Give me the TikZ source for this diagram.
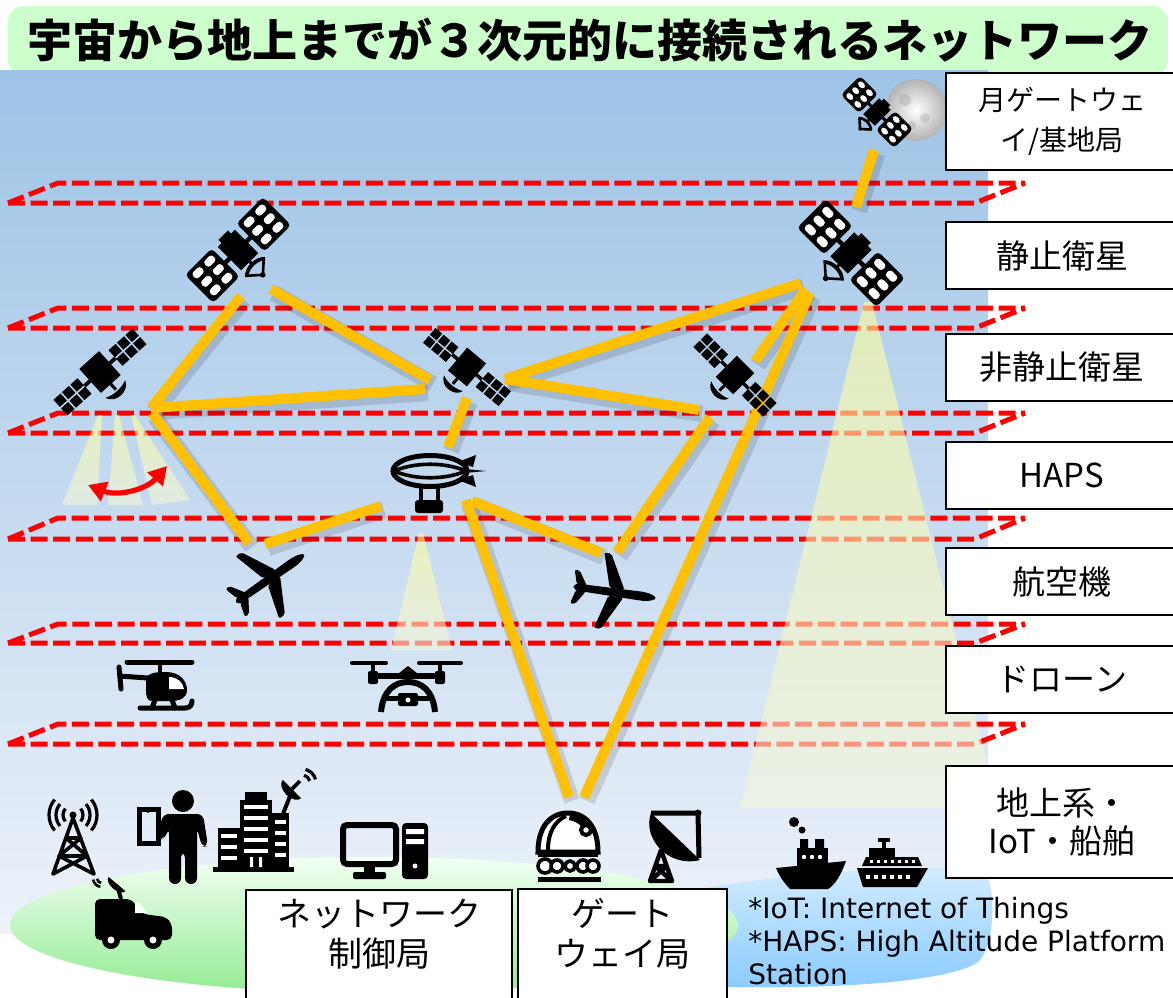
\documentclass[tikz,border=0pt]{standalone}
\usepackage{fontspec}
\setmainfont{Noto Sans CJK JP}
\newfontfamily\notefont{DejaVu Sans}
\usetikzlibrary{arrows.meta,positioning}

\definecolor{skyTop}{HTML}{9DC3E6}
\definecolor{skyBottom}{HTML}{EDF2FA}
\definecolor{titleGreen}{HTML}{CCFFCC}
\definecolor{layerRed}{HTML}{FF0000}
\definecolor{linkGold}{HTML}{FFC000}
\definecolor{beamYellow}{HTML}{FFFF99}
\definecolor{landTop}{HTML}{F2FFF2}
\definecolor{landBottom}{HTML}{92EC92}
\definecolor{seaTop}{HTML}{D2ECFF}
\definecolor{seaBottom}{HTML}{8ACBFF}

\tikzset{
	layer/.style={draw=layerRed, line width=2.5pt, dash pattern=on 8.5pt off 2.8pt},
	link/.style={draw=linkGold, line width=5pt},
	linkshadow/.style={draw=black, opacity=0.13, line width=8pt,
		transform canvas={shift={(1.5pt,-2pt)}}},
	beam/.style={top color=beamYellow, bottom color=beamYellow!30!skyBottom, opacity=0.6, draw=none},
	swing/.style={draw=layerRed, line width=2.6pt,
		{Triangle[length=9pt,width=10pt]}-{Triangle[length=9pt,width=10pt]}},
	tier/.style={draw=black, line width=1pt, fill=white, anchor=north west,
		minimum width=116pt, align=center, inner sep=0pt,
		font=\fontsize{16.5}{20}\selectfont},
	groundbox/.style={draw=black, line width=1pt, fill=white, anchor=north west, inner sep=0pt},
	groundtext/.style={align=center, inner sep=0pt, font=\fontsize{17}{20}\selectfont},
	pics/satgeo/.style={code={
		\fill (-11,-15) rectangle (11,15);
		\fill (-6,-19) rectangle (6,-14);
		\fill (-16,-2) rectangle (16,2);
		\foreach \s in {-1,1}{
			\fill[rounded corners=2pt] ({\s*16},-18) rectangle ({\s*50},18);
			\foreach \i in {0,1}
				\foreach \j in {0,1,2}
					\fill[white, rounded corners=1.5pt] ({\s*(20+\i*15)},{-14.5+\j*11}) rectangle ({\s*(30.5+\i*15)},{-7.5+\j*11});
		}
		\draw[line width=1.5pt] (0,15) -- (0,20);
		\fill (-13,22) .. controls (-7,15) and (7,15) .. (13,22) -- (11,24) .. controls (5,19) and (-5,19) .. (-11,24) -- cycle;
		\draw[line width=1.3pt, line join=round] (-10,23) -- (0,32) -- (10,23);
		\fill (0,32) circle (2.5);
	}},
	pics/satleo/.style={code={
		\fill (-14,-17) rectangle (14,17);
		\fill (-22,-2) rectangle (22,2);
		\foreach \s in {-1,1}
			\foreach \i in {0,1,2}
				\foreach \j in {0,1}
					\fill ({\s*(22+\i*12)},{-11+\j*12}) rectangle ({\s*(32+\i*12)},{-1+\j*12});
		\draw[line width=1.5pt] (0,17) -- (0,25);
		\fill (-14,24) .. controls (-10,36) and (10,36) .. (14,24) .. controls (6,28) and (-6,28) .. (-14,24) -- cycle;
	}},
	pics/plane/.style={code={
		\fill (-36,-3.5) -- (28,-4.5) .. controls (38,-4.5) and (44,-2) .. (44,0) .. controls (44,2) and (38,4.5) .. (28,4.5) -- (-36,3.5) -- (-39,0) -- cycle;
		\fill[rounded corners=1pt] (12,-4) -- (-6,-38) -- (-13,-38) -- (-3,-4) -- cycle;
		\fill[rounded corners=1pt] (12,4) -- (-6,38) -- (-13,38) -- (-3,4) -- cycle;
		\fill[rounded corners=1pt] (-26,-3) -- (-35,-17) -- (-40,-17) -- (-36,-3) -- cycle;
		\fill[rounded corners=1pt] (-26,3) -- (-35,17) -- (-40,17) -- (-36,3) -- cycle;
	}}
}

\begin{document}
\begin{tikzpicture}[x=0.5pt, y=-0.5pt]
	\useasboundingbox (0,0) rectangle (1173,997);

	% title band and sky
	\fill[titleGreen, rounded corners=8pt] (8,6) rectangle (1168,76);
	\shade[top color=skyTop, bottom color=skyBottom] (0,70) rectangle (988,933);
	\node[font=\bfseries\fontsize{22.5}{26}\selectfont] (title) at (590,40) {宇宙から地上までが３次元的に接続されるネットワーク};

	% sea and land
	\shade[top color=seaTop, bottom color=seaBottom] (705,888) .. controls (800,872) and (900,866) .. (984,868) .. controls (996,885) and (996,945) .. (978,962) .. controls (945,985) and (800,990) .. (705,986) -- cycle;
	\shade[top color=landTop, bottom color=landBottom] (374,925) ellipse (364 and 68);

	% layers
	\foreach \ya/\yb in {183/203, 308/328, 413/433, 518/539, 624/643, 724/744}
		\draw[layer] (8,\yb) -- (58,\ya) -- (1025,\ya) (8,\yb) -- (975,\yb) -- (1025,\ya);

	% coverage beams
	\begin{scope}
		\clip (0,70) rectangle (988,933);
		\shade[beam] (864,302) -- (872,302) -- (998,808) -- (740,808) -- cycle;
		\shade[beam] (419,533) -- (423,533) -- (452,650) -- (391,650) -- cycle;
		\shade[beam] (98,415) -- (102,415) -- (97,505) -- (62,505) -- cycle;
		\shade[beam] (115,415) -- (119,415) -- (143,505) -- (108,505) -- cycle;
		\shade[beam] (131,415) -- (135,415) -- (190,500) -- (152,505) -- cycle;
	\end{scope}
	\coordinate (swingL) at (88,485);
	\coordinate (swingR) at (167,466);
	\draw[swing] (swingL) to[bend right=35] (swingR);

	% link ends
	\coordinate (moon-s) at (874,150);
	\coordinate (geoR-n) at (856,207);
	\coordinate (geoL-sw) at (241,296);
	\coordinate (geoL-se) at (271,289);
	\coordinate (leoL-e) at (151,408);
	\coordinate (leoL-se) at (152,413);
	\coordinate (leoM-w1) at (430,380);
	\coordinate (leoM-w2) at (425,389);
	\coordinate (leoM-s) at (467,398);
	\coordinate (leoM-e) at (505,379);
	\coordinate (geoR-sw1) at (801,283);
	\coordinate (geoR-sw2) at (806,289);
	\coordinate (geoR-sw3) at (810,293);
	\coordinate (leoR-w) at (699,410);
	\coordinate (leoR-n) at (755,361);
	\coordinate (leoR-s) at (710,417);
	\coordinate (haps-n) at (448,447);
	\coordinate (haps-w) at (381,506);
	\coordinate (haps-se1) at (466,500);
	\coordinate (haps-se2) at (472,501);
	\coordinate (air1-n) at (249,543);
	\coordinate (air1-e) at (265,544);
	\coordinate (air2-n) at (601,553);
	\coordinate (air2-e) at (617,552);
	\coordinate (gw-w) at (569,797);
	\coordinate (gw-e) at (584,797);

	\foreach \a/\b in {moon-s/geoR-n, geoL-sw/leoL-e, geoL-se/leoM-w1, leoL-e/leoM-w2,
			leoL-se/air1-n, air1-e/haps-w, leoM-s/haps-n, haps-se1/gw-w, haps-se2/air2-n,
			leoM-e/geoR-sw1, leoM-e/leoR-w, geoR-sw2/leoR-n, geoR-sw3/gw-e, leoR-s/air2-e}
		\draw[linkshadow] (\a) -- (\b);
	\foreach \a/\b in {moon-s/geoR-n, geoL-sw/leoL-e, geoL-se/leoM-w1, leoL-e/leoM-w2,
			leoL-se/air1-n, air1-e/haps-w, leoM-s/haps-n, haps-se1/gw-w, haps-se2/air2-n,
			leoM-e/geoR-sw1, leoM-e/leoR-w, geoR-sw2/leoR-n, geoR-sw3/gw-e, leoR-s/air2-e}
		\draw[link] (\a) -- (\b);

	% moon and satellites
	\shade[inner color=white, outer color=gray!60] (916,110) circle (31);
	\fill[gray, opacity=0.25] (905,100) circle (6) (925,118) circle (5) (912,125) circle (4);
	\pic[rotate=-45, scale=0.75] at (877,112) {satgeo};
	\pic[rotate=45, scale=1.1] at (238,250) {satgeo};
	\pic[rotate=-45, scale=1.12] at (851,253) {satgeo};
	\pic[rotate=42, scale=0.95] at (100,372) {satleo};
	\pic[rotate=-40, scale=0.88] at (467,367) {satleo};
	\pic[rotate=-45, scale=0.88] at (735,375) {satleo};

	% HAPS airship
	\draw[line width=2.5pt] (430,471) ellipse (37 and 15.5);
	\draw[line width=1.8pt] (394,471) .. controls (415,462) and (445,462) .. (466,471);
	\draw[line width=1.8pt] (394,471) .. controls (415,480) and (445,480) .. (466,471);
	\fill (458,462) -- (476,455) -- (473,467) -- cycle;
	\fill (458,480) -- (476,487) -- (473,475) -- cycle;
	\fill (465,469) -- (486,471) -- (465,473) -- cycle;
	\draw[line width=2pt] (421,486) -- (421,500) (438,486) -- (438,500);
	\fill[rounded corners=1.5pt] (415,500) rectangle (443,513);

	% aircraft
	\pic[rotate=35] at (268,580) {plane};
	\pic[rotate=-8] at (612,592) {plane};

	% helicopter
	\draw[line width=2.5pt, line cap=round] (127,662) -- (192,662);
	\draw[line width=2pt] (160,662) -- (160,673);
	\fill (146,681) .. controls (146,673) and (155,672) .. (166,672) .. controls (180,672) and (187,681) .. (187,690) .. controls (187,698) and (180,701) .. (170,701) -- (152,701) .. controls (147,701) and (146,696) .. (146,690) -- cycle;
	\fill[white] (169,677) .. controls (177,677) and (183,682) .. (184,689) -- (169,689) -- cycle;
	\draw[line width=2.5pt] (148,678) -- (119,676);
	\draw[line width=2.5pt, line cap=round] (119,667) -- (121,689);
	\draw[line width=2.5pt, line cap=round] (155,700) -- (152,708) (172,700) -- (175,708);
	\draw[line width=2.5pt, line cap=round] (140,708) -- (185,708) .. controls (190,708) and (192,705) .. (192,701);

	% drone
	\draw[line width=2pt, line cap=round] (352,663) -- (386,663) (419,663) -- (461,663);
	\draw[line width=2pt] (373,663) -- (373,672) (440,663) -- (440,672);
	\fill[rounded corners=1pt] (368,671) rectangle (378,684) (435,671) rectangle (445,684);
	\draw[line width=3pt] (373,676) -- (440,676);
	\fill (394,677) -- (408,666) -- (422,677) -- cycle;
	\draw[line width=3pt] (381,712) .. controls (383,690) and (395,682) .. (408,682) .. controls (421,682) and (433,690) .. (435,712);
	\draw[line width=2.5pt] (385,698) -- (431,698);
	\fill[rounded corners=1pt] (398,693) rectangle (418,706);
	\fill[white] (408,700) circle (2.5);

	% radio mast
	\draw[line width=1.8pt, line join=round, line cap=round] (53,874) -- (73,818) -- (94,874)
		(66,838) -- (81,838) (59,856) -- (87,856)
		(66,838) -- (87,856) (81,838) -- (59,856) (59,856) -- (94,874) (87,856) -- (53,874);
	\foreach \r in {10,17,24}
		\draw[line width=1.6pt] (73,815) ++(-40:\r) arc (-40:40:\r) (73,815) ++(140:\r) arc (140:220:\r);
	\fill (73,815) circle (3.5);
	\foreach \r in {5,9}
		\draw[line width=1.3pt] (102,878) ++(100:\r) arc (100:170:\r);

	% van with roof dish
	\fill[rounded corners=2.5pt] (95,940) -- (95,899) -- (131,899) -- (143,914) -- (166,917) -- (172,924) -- (172,940) -- cycle;
	\fill[white] (135,903) -- (140,903) -- (147,913) -- (135,913) -- cycle;
	\foreach \x in {111,153} {
		\fill (\x,940) circle (9);
		\fill[white] (\x,940) circle (3.5);
	}
	\draw[line width=2pt] (121,899) -- (118,888);
	\fill[rotate around={-40:(117,884)}] (106,884) arc (180:0:11 and 6) -- cycle;

	% person with tablet
	\fill (183,801) circle (11);
	\fill[rounded corners=3pt] (163,814) -- (203,814) -- (208,846) -- (202,847) -- (197,828) -- (197,884) -- (185,884) -- (185,852) -- (181,852) -- (181,884) -- (169,884) -- (169,828) -- (164,840) -- (157,838) -- cycle;
	\draw[line width=2.5pt] (139,809) rectangle (158,843);
	\fill (148,812) circle (1.2);

	% buildings with dish
	\fill (245,792) rectangle (267,801);
	\fill (240,800) rectangle (272,870);
	\fill (218,828) rectangle (240,870);
	\fill (272,813) rectangle (289,870);
	\fill (213,867) rectangle (294,872);
	\foreach \y in {805,816,827,838,849}
		\fill[white] (244,\y) rectangle (268,{\y+4});
	\foreach \y in {834,845,856}
		\fill[white] (221,\y) rectangle (237,{\y+4});
	\foreach \y in {820,831,842,853}
		\fill[white] (275,\y) rectangle (286,{\y+4});
	\fill[white] (250,857) rectangle (253,867) (259,857) rectangle (262,867);
	\draw[line width=2pt] (283,814) -- (290,796);
	\fill[rotate around={-45:(292,789)}] (279,789) arc (180:0:13 and 8) -- cycle;
	\draw[line width=1.8pt] (292,789) -- (300,781);
	\foreach \r in {8,14}
		\draw[line width=1.6pt] (302,783) ++(-75:\r) arc (-75:-15:\r);

	% computer
	\draw[line width=3pt, rounded corners=2pt] (343,825) rectangle (396,864);
	\fill (364,864) rectangle (375,873);
	\fill[rounded corners=1pt] (353,872) rectangle (386,879);
	\fill[rounded corners=2pt] (402,823) rectangle (428,879);
	\fill[white] (406,829) rectangle (424,834) (406,839) rectangle (424,844);
	\fill[white] (415,866) circle (2.5);

	% observatory
	\fill[white, draw=black, line width=2.5pt] (538,852) .. controls (538,826) and (551,813) .. (568,813) .. controls (585,813) and (598,826) .. (598,852) -- cycle;
	\draw[line width=2pt] (548,850) .. controls (548,832) and (555,821) .. (566,816);
	\fill (570,814) .. controls (580,815) and (588,820) .. (592,830) -- (586,833) .. controls (582,825) and (576,821) .. (569,820) -- cycle;
	\draw[line width=2pt, fill=white] (586,830) circle (5);
	\fill (538,850) rectangle (598,857);
	\foreach \x/\r in {545/7, 557/6, 570/5, 583/6, 593/6}
		\draw[line width=1.8pt, fill=white] (\x,866) circle (\r);
	\draw[line width=2.5pt] (538,879) -- (601,879);

	% parabolic antenna
	\fill (651,813) .. controls (642,838) and (668,868) .. (700,860) -- cycle;
	\draw[line width=2.5pt, line join=round] (651,813) -- (698,813) -- (699,858);
	\fill (698,813) circle (3.5);
	\draw[line width=2.2pt, line join=round] (661,850) -- (650,881) -- (672,881) -- cycle
		(655,866) -- (667,866) (655,866) -- (672,881) (667,866) -- (650,881);

	% ships
	\fill (776,868) -- (846,861) .. controls (841,875) and (835,885) .. (828,889) -- (790,889) .. controls (783,882) and (779,875) .. (776,868) -- cycle;
	\fill (797,848) rectangle (828,868);
	\fill[white] (804,857) circle (2.2) (812,857) circle (2.2) (820,857) circle (2.2);
	\fill (800,839) rectangle (808,848) (815,839) rectangle (824,848);
	\fill (794,822) circle (5) (802,830) circle (3.5);
	\fill (857,868) -- (928,868) -- (917,887) -- (863,887) -- cycle;
	\foreach \x in {866,874,...,906}
		\fill[white] (\x,875) rectangle ({\x+4},879);
	\fill (866,857) -- (918,857) -- (922,866) -- (862,866) -- cycle;
	\foreach \x in {870,877,...,912}
		\fill[white] (\x,860) rectangle ({\x+2.5},862.5);
	\fill (869,848) rectangle (895,857);
	\fill (878,838) rectangle (890,842);
	\draw[line width=2pt] (884,842) -- (884,848);

	% tier labels
	\node[tier, minimum height=48.5pt, font=\fontsize{14}{20}\selectfont] (lunar) at (945,72) {月ゲートウェ\\イ/基地局};
	\node[tier, minimum height=33.5pt] (geo) at (945,221) {静止衛星};
	\node[tier, minimum height=33.5pt] (ngso) at (945,333) {非静止衛星};
	\node[tier, minimum height=33.5pt] (hapsbox) at (945,441) {HAPS};
	\node[tier, minimum height=33.5pt] (aircraft) at (945,547) {航空機};
	\node[tier, minimum height=33.5pt] (dronebox) at (945,645) {ドローン};
	\node[tier, minimum height=56pt, font=\fontsize{16.5}{19}\selectfont] (groundtier) at (945,765) {地上系・\\IoT・船舶};

	% ground stations
	\node[groundbox, minimum width=133pt, minimum height=60pt] (ctrl) at (245,889) {};
	\node[groundtext, below=5pt of ctrl.north] (ctrltext) {ネットワーク\\制御局};
	\node[groundbox, minimum width=104.5pt, minimum height=60pt] (gwbox) at (517,888) {};
	\node[groundtext, below=5pt of gwbox.north] (gwtext) {ゲート\\ウェイ局};

	\node[anchor=north west, align=left, inner sep=0pt, font=\notefont\fontsize{14}{16.5}\selectfont] (notes) at (748,897) {*IoT: Internet of Things\\*HAPS: High Altitude Platform\\Station};
\end{tikzpicture}
\end{document}
